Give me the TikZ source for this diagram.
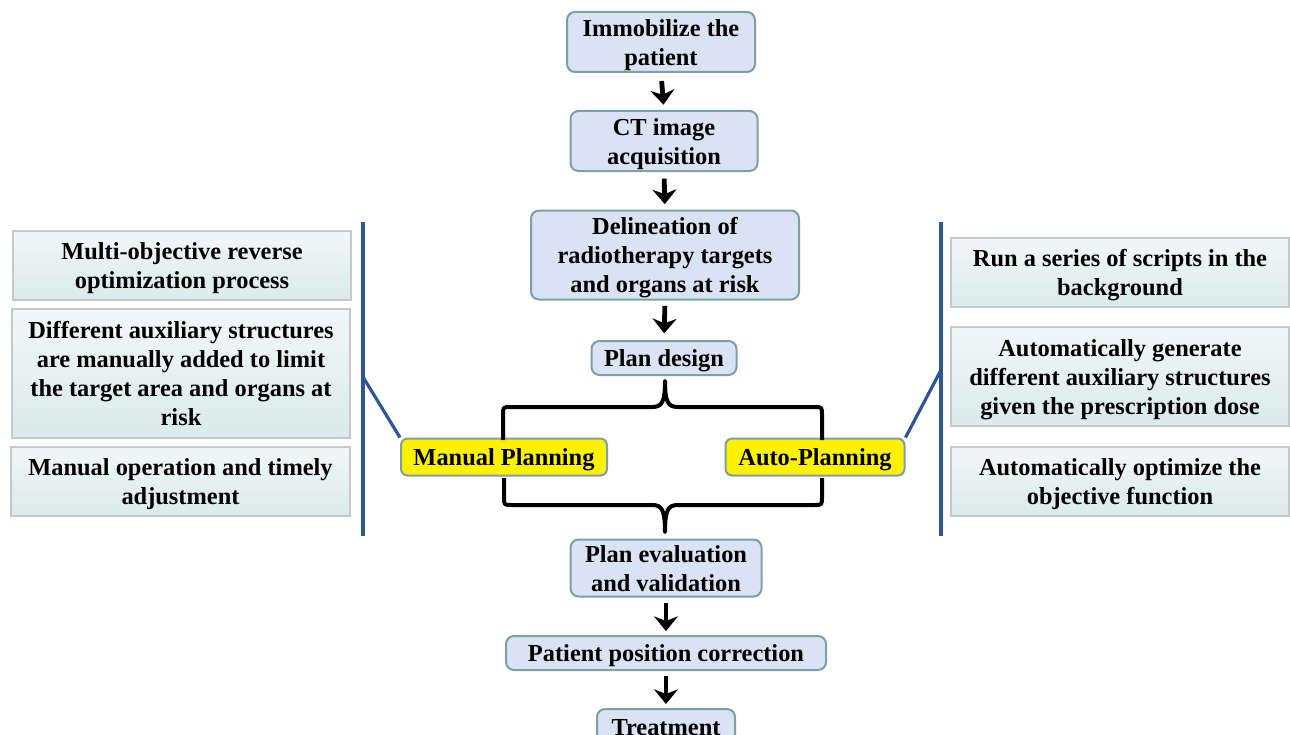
\documentclass[tikz,border=0pt]{standalone}
\usepackage{fontspec}
\setmainfont{Liberation Serif}
\usetikzlibrary{arrows.meta,shadings}
\definecolor{boxfill}{HTML}{DAE3F3}
\definecolor{boxdraw}{HTML}{7E9FA3}
\definecolor{sidetop}{HTML}{F1F7F7}
\definecolor{sidebot}{HTML}{DBEAEA}
\definecolor{sidedraw}{HTML}{C4C9C9}
\definecolor{bline}{HTML}{2F5597}
\newcommand{\mytop}{\rule{0pt}{17pt}}
\newcommand{\mybot}{\rule[-4pt]{0pt}{4pt}}
\tikzset{
  every node/.style={font=\fontsize{18.3}{21.75}\selectfont\bfseries, align=center, inner sep=0pt},
  flowbox/.style={draw=boxdraw, line width=1.5pt, fill=boxfill, rounded corners=6pt},
  yelbox/.style={draw=boxdraw, line width=1.5pt, fill=yellow, rounded corners=5pt},
  sidebox/.style={draw=sidedraw, line width=1pt, top color=sidetop, bottom color=sidebot},
  flowarrow/.style={line width=3.6pt, -{Stealth[length=11pt,width=18pt,inset=3.5pt]}},
  bracepath/.style={line width=3pt, line join=round},
  blueline/.style={draw=bline, line width=2.4pt}
}
\begin{document}
\begin{tikzpicture}[x=0.75pt,y=-0.75pt]
\clip (0,0) rectangle (1290,735);
\useasboundingbox (0,0) rectangle (1290,735);
% central flow
\node[flowbox, minimum width=188*0.75pt, minimum height=60*0.75pt] (imm) at (661,42) {\mytop Immobilize the\\patient\mybot};
\node[flowbox, minimum width=187*0.75pt, minimum height=60*0.75pt] (ct) at (664,141) {\mytop CT image\\acquisition\mybot};
\node[flowbox, minimum width=268*0.75pt, minimum height=89*0.75pt] (del) at (665,255) {\mytop Delineation of\\radiotherapy targets\\and organs at risk\mybot};
\node[flowbox, minimum width=145*0.75pt, minimum height=34*0.75pt] (pd) at (664,358) {\mytop Plan design\mybot};
\node[yelbox, minimum width=206*0.75pt, minimum height=37*0.75pt] (mp) at (504,457) {\mytop Manual Planning\mybot};
\node[yelbox, minimum width=179*0.75pt, minimum height=37*0.75pt] (ap) at (815,457) {\mytop Auto-Planning\mybot};
\node[flowbox, minimum width=191*0.75pt, minimum height=55*0.75pt] (pe) at (666,568) {\mytop Plan evaluation\\and validation\mybot};
\node[flowbox, minimum width=320*0.75pt, minimum height=34*0.75pt] (pp) at (666,653) {\mytop Patient position correction\mybot};
\node[flowbox, minimum width=138*0.75pt, minimum height=36*0.75pt] (tr) at (666,727) {\mytop Treatment\mybot};
% arrows
\draw[flowarrow, shorten <=6pt, shorten >=4pt] (imm.south) -- (ct.north);
\draw[flowarrow, shorten <=5pt, shorten >=4pt] (ct.south) -- (del.north);
\draw[flowarrow, shorten <=4pt, shorten >=5pt] (del.south) -- (pd.north);
\draw[flowarrow, shorten <=4pt, shorten >=3pt] (pe.south) -- (pp.north);
\draw[flowarrow, shorten <=4pt, shorten >=3pt] (pp.south) -- (tr.north);
% braces
\coordinate (t1) at (503,440);
\coordinate (t2) at (822,440);
\coordinate (ttip) at (665,381);
\draw[bracepath] (t1) -- (503,415) .. controls (503,407) .. (511,407) -- (652,407)
  .. controls (662,407) and (665,402) .. (ttip)
  .. controls (665,402) and (668,407) .. (678,407) -- (814,407)
  .. controls (822,407) .. (822,415) -- (t2);
\coordinate (b1) at (504,478);
\coordinate (b2) at (822,478);
\coordinate (btip) at (665,532);
\draw[bracepath] (b1) -- (504,497) .. controls (504,505) .. (512,505) -- (652,505)
  .. controls (662,505) and (665,510) .. (btip)
  .. controls (665,510) and (668,505) .. (678,505) -- (814,505)
  .. controls (822,505) .. (822,497) -- (b2);
% left side
\node[sidebox, minimum width=338*0.75pt, minimum height=69*0.75pt] (l1) at (182,265.5) {\mytop Multi-objective reverse\\optimization process\mybot};
\node[sidebox, minimum width=338*0.75pt, minimum height=129*0.75pt] (l2) at (181,373.5) {\mytop Different auxiliary structures\\are manually added to limit\\the target area and organs at\\risk\mybot};
\node[sidebox, minimum width=339*0.75pt, minimum height=69*0.75pt] (l3) at (180.5,481.5) {\mytop Manual operation and timely\\adjustment\mybot};
\coordinate (lt) at (363,222);
\coordinate (lb) at (363,536);
\coordinate (lm) at (363,377);
\draw[blueline] (lt) -- (lb);
\draw[blueline] (lm) -- (mp.north west);
% right side
\node[sidebox, minimum width=338*0.75pt, minimum height=69*0.75pt] (r1) at (1120,272.5) {\mytop Run a series of scripts in the\\background\mybot};
\node[sidebox, minimum width=338*0.75pt, minimum height=99*0.75pt] (r2) at (1120,376.5) {\mytop Automatically generate\\different auxiliary structures\\given the prescription dose\mybot};
\node[sidebox, minimum width=338*0.75pt, minimum height=69*0.75pt] (r3) at (1120,481.5) {\mytop Automatically optimize the\\objective function\mybot};
\coordinate (rt) at (941,222);
\coordinate (rb) at (941,536);
\coordinate (rm) at (941,370);
\draw[blueline] (rt) -- (rb);
\draw[blueline] (rm) -- (ap.north east);
\end{tikzpicture}
\end{document}
